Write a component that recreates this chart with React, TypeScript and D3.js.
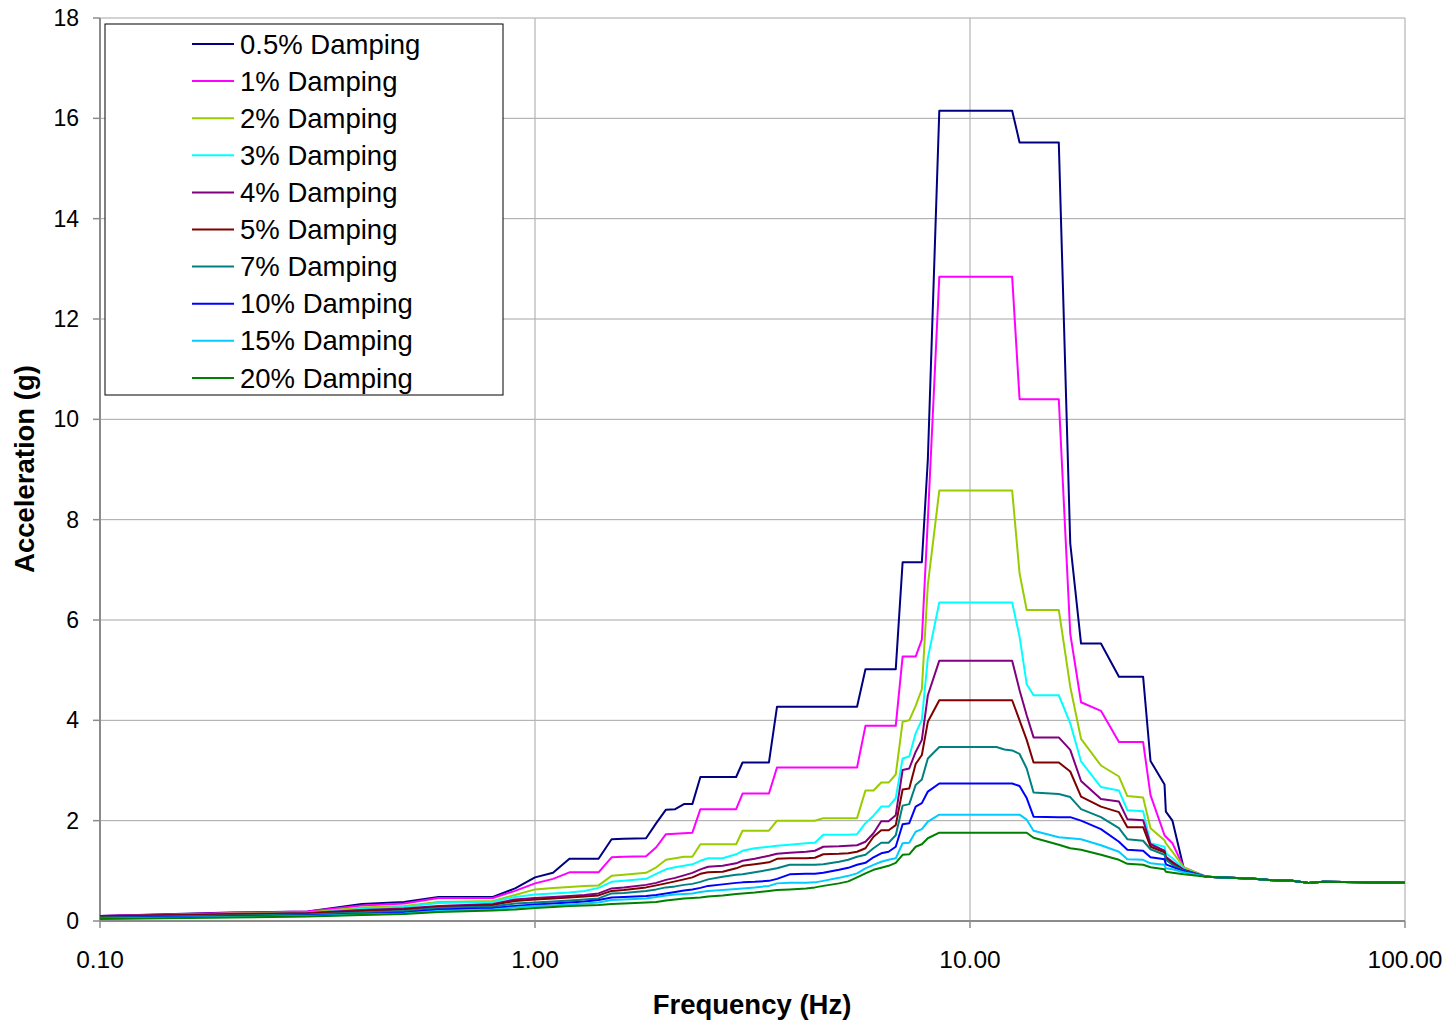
import React from "react";
import * as d3 from "d3";

// Frequency grid (Hz)
const FREQ = [
  0.1, 0.2, 0.3, 0.4, 0.5, 0.6, 0.8, 0.9, 1.0, 1.1, 1.2, 1.3, 1.4, 1.5, 1.6, 1.8, 1.9, 2.0, 2.1, 2.2,
  2.3, 2.4, 2.5, 2.7, 2.9, 3.0, 3.2, 3.45, 3.6, 3.85, 4.2, 4.4, 4.6, 5.0, 5.25, 5.5, 5.75, 6.0, 6.25, 6.5,
  6.75, 7.0, 7.25, 7.5, 7.75, 8.0, 8.5, 11.5, 12.0, 12.5, 13.0, 13.5, 14.0, 16.0, 17.0, 18.0, 20.0, 22.0,
  23.0, 25.0, 26.0, 28.0, 28.2, 29.2, 31.0,
  35.0, 45.0, 50.0, 55.0, 60.0, 65.0, 80.0, 100.0,
];

// Shared high-frequency tail (35 Hz .. 100 Hz)
const TAIL = [0.88, 0.84, 0.81, 0.8, 0.76, 0.78, 0.77, 0.76];

const D05 = [
  0.1, 0.17, 0.19, 0.34, 0.38, 0.48, 0.48, 0.65, 0.87, 0.96, 1.24, 1.24, 1.24, 1.63, 1.64, 1.65, 1.95, 2.22, 2.23, 2.33,
  2.33, 2.87, 2.87, 2.87, 2.87, 3.16, 3.16, 3.16, 4.27, 4.27, 4.27, 4.27, 4.27, 4.27, 4.27, 4.27, 5.02, 5.02, 5.02, 5.02,
  5.02, 7.15, 7.15, 7.15, 7.15, 9.2, 16.15, 16.15, 16.15, 16.15, 15.52, 15.52, 15.52, 15.52, 7.53, 5.53, 5.53, 4.87,
  4.87, 4.87, 3.19, 2.72, 2.18, 2.0, 1.05,
  ...TAIL,
];
const D1 = [
  0.1, 0.16, 0.19, 0.31, 0.35, 0.46, 0.46, 0.6, 0.75, 0.84, 0.97, 0.97, 0.97, 1.27, 1.28, 1.29, 1.47, 1.73, 1.74, 1.75,
  1.76, 2.23, 2.23, 2.23, 2.23, 2.54, 2.54, 2.54, 3.06, 3.06, 3.06, 3.06, 3.06, 3.06, 3.06, 3.06, 3.89, 3.89, 3.89, 3.89,
  3.89, 5.27, 5.27, 5.27, 5.61, 8.0, 12.84, 12.84, 12.84, 12.84, 10.4, 10.4, 10.4, 10.4, 5.73, 4.36, 4.19, 3.57,
  3.57, 3.57, 2.51, 1.71, 1.68, 1.55, 1.07,
  ...TAIL,
];
const D2 = [
  0.09, 0.15, 0.17, 0.27, 0.3, 0.38, 0.4, 0.52, 0.63, 0.66, 0.68, 0.7, 0.71, 0.9, 0.92, 0.96, 1.07, 1.22, 1.25, 1.28,
  1.28, 1.53, 1.53, 1.53, 1.53, 1.8, 1.8, 1.8, 2.0, 2.0, 2.0, 2.0, 2.05, 2.05, 2.05, 2.05, 2.6, 2.6, 2.76, 2.76,
  2.92, 3.97, 4.0, 4.29, 4.62, 6.7, 8.58, 8.58, 8.58, 8.58, 6.93, 6.2, 6.2, 6.2, 4.67, 3.63, 3.1, 2.88,
  2.49, 2.46, 1.85, 1.61, 1.55, 1.38, 1.07,
  ...TAIL,
];
const D3 = [
  0.08, 0.13, 0.15, 0.24, 0.28, 0.36, 0.38, 0.48, 0.53, 0.55, 0.57, 0.6, 0.66, 0.78, 0.8, 0.84, 0.94, 1.03, 1.07, 1.1,
  1.13, 1.2, 1.25, 1.25, 1.33, 1.4, 1.45, 1.48, 1.5, 1.52, 1.55, 1.56, 1.72, 1.72, 1.72, 1.73, 1.95, 2.1, 2.28, 2.28,
  2.45, 3.24, 3.28, 3.74, 4.01, 5.24, 6.35, 6.35, 6.35, 6.35, 5.67, 4.72, 4.5, 4.5, 3.94, 3.18, 2.67, 2.6,
  2.21, 2.19, 1.55, 1.48, 1.35, 1.25, 1.04,
  ...TAIL,
];
const D4 = [
  0.1, 0.14, 0.16, 0.22, 0.25, 0.3, 0.34, 0.43, 0.46, 0.48, 0.5, 0.52, 0.55, 0.65, 0.67, 0.72, 0.76, 0.82, 0.86, 0.91,
  0.96, 1.03, 1.08, 1.1, 1.15, 1.2, 1.24, 1.3, 1.34, 1.36, 1.38, 1.4, 1.48, 1.49, 1.5, 1.51, 1.58, 1.75, 1.99, 1.99,
  2.11, 3.01, 3.04, 3.37, 3.61, 4.5, 5.19, 5.19, 5.19, 5.19, 4.6, 4.1, 3.66, 3.66, 3.41, 2.79, 2.43, 2.38,
  2.03, 2.01, 1.53, 1.4, 1.28, 1.18, 1.02,
  ...TAIL,
];
const D5 = [
  0.09, 0.13, 0.15, 0.2, 0.23, 0.28, 0.32, 0.4, 0.43, 0.45, 0.47, 0.49, 0.51, 0.6, 0.62, 0.67, 0.71, 0.75, 0.79, 0.83,
  0.87, 0.94, 0.97, 0.98, 1.05, 1.1, 1.13, 1.17, 1.24, 1.25, 1.25, 1.26, 1.33, 1.34, 1.35, 1.38, 1.45, 1.68, 1.81, 1.81,
  1.91, 2.62, 2.64, 3.13, 3.31, 3.97, 4.4, 4.4, 4.4, 4.4, 4.0, 3.61, 3.16, 3.16, 2.98, 2.48, 2.28, 2.17,
  1.87, 1.87, 1.48, 1.37, 1.25, 1.15, 1.01,
  ...TAIL,
];
const D7 = [
  0.07, 0.11, 0.13, 0.17, 0.2, 0.26, 0.29, 0.35, 0.37, 0.39, 0.41, 0.43, 0.45, 0.55, 0.56, 0.6, 0.63, 0.67, 0.69, 0.72,
  0.74, 0.78, 0.83, 0.88, 0.92, 0.93, 0.97, 1.02, 1.05, 1.12, 1.12, 1.12, 1.13, 1.18, 1.22, 1.28, 1.32, 1.45, 1.56, 1.56,
  1.71, 2.3, 2.33, 2.71, 2.82, 3.24, 3.47, 3.47, 3.42, 3.4, 3.33, 3.04, 2.56, 2.53, 2.47, 2.23, 2.07, 1.85,
  1.63, 1.6, 1.43, 1.32, 1.22, 1.12, 1.0,
  ...TAIL,
];
const D10 = [
  0.06, 0.09, 0.11, 0.14, 0.17, 0.23, 0.26, 0.3, 0.33, 0.35, 0.37, 0.39, 0.42, 0.47, 0.48, 0.5, 0.52, 0.55, 0.58, 0.61,
  0.63, 0.66, 0.7, 0.73, 0.76, 0.77, 0.78, 0.8, 0.84, 0.93, 0.94, 0.94, 0.96, 1.02, 1.06, 1.12, 1.16, 1.27, 1.35, 1.38,
  1.48, 1.93, 1.95, 2.28, 2.35, 2.58, 2.74, 2.74, 2.74, 2.74, 2.69, 2.45, 2.08, 2.07, 2.07, 2.0, 1.83, 1.58,
  1.42, 1.4, 1.27, 1.23, 1.13, 1.08, 0.99,
  ...TAIL,
];
const D15 = [
  0.05, 0.08, 0.1, 0.13, 0.15, 0.2, 0.23, 0.27, 0.3, 0.31, 0.33, 0.35, 0.37, 0.42, 0.43, 0.45, 0.48, 0.51, 0.53, 0.54,
  0.55, 0.58, 0.6, 0.62, 0.64, 0.65, 0.67, 0.7, 0.75, 0.76, 0.76, 0.77, 0.8, 0.86, 0.9, 0.95, 1.05, 1.12, 1.18, 1.22,
  1.25, 1.55, 1.56, 1.78, 1.83, 1.98, 2.12, 2.12, 2.12, 2.12, 2.12, 2.02, 1.8, 1.67, 1.65, 1.63, 1.51, 1.38,
  1.23, 1.22, 1.15, 1.12, 1.05, 1.03, 0.97,
  ...TAIL,
];
const D20 = [
  0.04, 0.07, 0.09, 0.12, 0.14, 0.18, 0.21, 0.23, 0.26, 0.28, 0.3, 0.31, 0.32, 0.34, 0.35, 0.37, 0.38, 0.41, 0.43, 0.45,
  0.46, 0.47, 0.49, 0.51, 0.54, 0.55, 0.57, 0.6, 0.62, 0.63, 0.65, 0.67, 0.7, 0.75, 0.79, 0.87, 0.95, 1.02, 1.06, 1.1,
  1.16, 1.32, 1.33, 1.48, 1.53, 1.65, 1.76, 1.76, 1.76, 1.76, 1.76, 1.76, 1.66, 1.52, 1.45, 1.42, 1.32, 1.22,
  1.14, 1.12, 1.07, 1.03, 0.98, 0.96, 0.93,
  ...TAIL,
];

const SERIES_NAMES = [
  "0.5% Damping", "1% Damping", "2% Damping", "3% Damping", "4% Damping",
  "5% Damping", "7% Damping", "10% Damping", "15% Damping", "20% Damping",
];
const SERIES_VALUES = [D05, D1, D2, D3, D4, D5, D7, D10, D15, D20];
const COLORS = [
  "#000080", "#FF00FF", "#99CC00", "#00FFFF", "#800080",
  "#800000", "#008080", "#0000FF", "#00CCFF", "#008000",
];

const Y_TICKS = [0, 2, 4, 6, 8, 10, 12, 14, 16, 18];
const X_TICKS = [0.1, 1, 10, 100];

const W = 1453;
const H = 1026;
const M = { left: 100, right: 1405, top: 18, bottom: 921 };
const FONT = "'Liberation Sans', Arial, Helvetica, sans-serif";

export default function App() {
  const x = d3.scaleLog().domain([0.1, 100]).range([M.left, M.right]);
  const y = d3.scaleLinear().domain([0, 18]).range([M.bottom, M.top]);
  const line = d3
    .line<[number, number]>()
    .x((d) => x(d[0]))
    .y((d) => y(d[1]));

  const legendX = 105;
  const legendY = 24;
  const legendW = 398;
  const legendH = 371;
  const rowH = 37.1;

  return (
    <div style={{ position: "absolute", left: 0, top: 0 }}>
      <svg width={W} height={H} style={{ display: "block", background: "#fff" }}>
        {/* grid */}
        {Y_TICKS.filter((t) => t > 0).map((t) => (
          <line key={"gy" + t} x1={M.left} x2={M.right} y1={y(t)} y2={y(t)} stroke="#a6a6a6" strokeWidth={1} />
        ))}
        {X_TICKS.filter((t) => t > 0.1).map((t) => (
          <line key={"gx" + t} x1={x(t)} x2={x(t)} y1={M.top} y2={M.bottom} stroke="#b4b4b4" strokeWidth={1.2} />
        ))}
        {/* axes */}
        <line x1={M.left} x2={M.left} y1={M.top} y2={M.bottom} stroke="#8c8c8c" strokeWidth={2} />
        <line x1={M.left} x2={M.right} y1={M.bottom} y2={M.bottom} stroke="#8c8c8c" strokeWidth={2} />
        {Y_TICKS.map((t) => (
          <line key={"ty" + t} x1={M.left - 7} x2={M.left} y1={y(t)} y2={y(t)} stroke="#8c8c8c" strokeWidth={1.5} />
        ))}
        {X_TICKS.map((t) => (
          <line key={"tx" + t} x1={x(t)} x2={x(t)} y1={M.bottom} y2={M.bottom + 7} stroke="#8c8c8c" strokeWidth={1.5} />
        ))}
        {/* tick labels */}
        {Y_TICKS.map((t) => (
          <text key={"ly" + t} x={79} y={y(t)} dy="0.35em" textAnchor="end" fontFamily={FONT} fontSize={23} fill="#000">
            {t}
          </text>
        ))}
        {X_TICKS.map((t) => (
          <text key={"lx" + t} x={x(t)} y={968} textAnchor="middle" fontFamily={FONT} fontSize={24.5} fill="#000">
            {t.toFixed(2)}
          </text>
        ))}
        {/* axis titles */}
        <text x={752} y={1014} textAnchor="middle" fontFamily={FONT} fontSize={27.5} fontWeight="bold">
          Frequency (Hz)
        </text>
        <text
          transform={`translate(34,469) rotate(-90)`}
          textAnchor="middle"
          fontFamily={FONT}
          fontSize={27.5}
          fontWeight="bold"
        >
          Acceleration (g)
        </text>
        {/* series */}
        <g fill="none" strokeWidth={2} strokeLinejoin="round">
          {SERIES_VALUES.map((vals, i) => (
            <path
              key={SERIES_NAMES[i]}
              d={line(FREQ.map((f, j) => [f, vals[j]] as [number, number])) || ""}
              stroke={COLORS[i]}
            />
          ))}
        </g>
        {/* legend */}
        <rect x={legendX} y={legendY} width={legendW} height={legendH} fill="#fff" stroke="#000" strokeWidth={1} />
        {SERIES_NAMES.map((name, i) => {
          const cy = legendY + 20 + i * rowH;
          return (
            <g key={"lg" + name}>
              <line x1={192} x2={234} y1={cy} y2={cy} stroke={COLORS[i]} strokeWidth={2} />
              <text x={240} y={cy} dy="0.35em" fontFamily={FONT} fontSize={27.5} fill="#000">
                {name}
              </text>
            </g>
          );
        })}
      </svg>
    </div>
  );
}
